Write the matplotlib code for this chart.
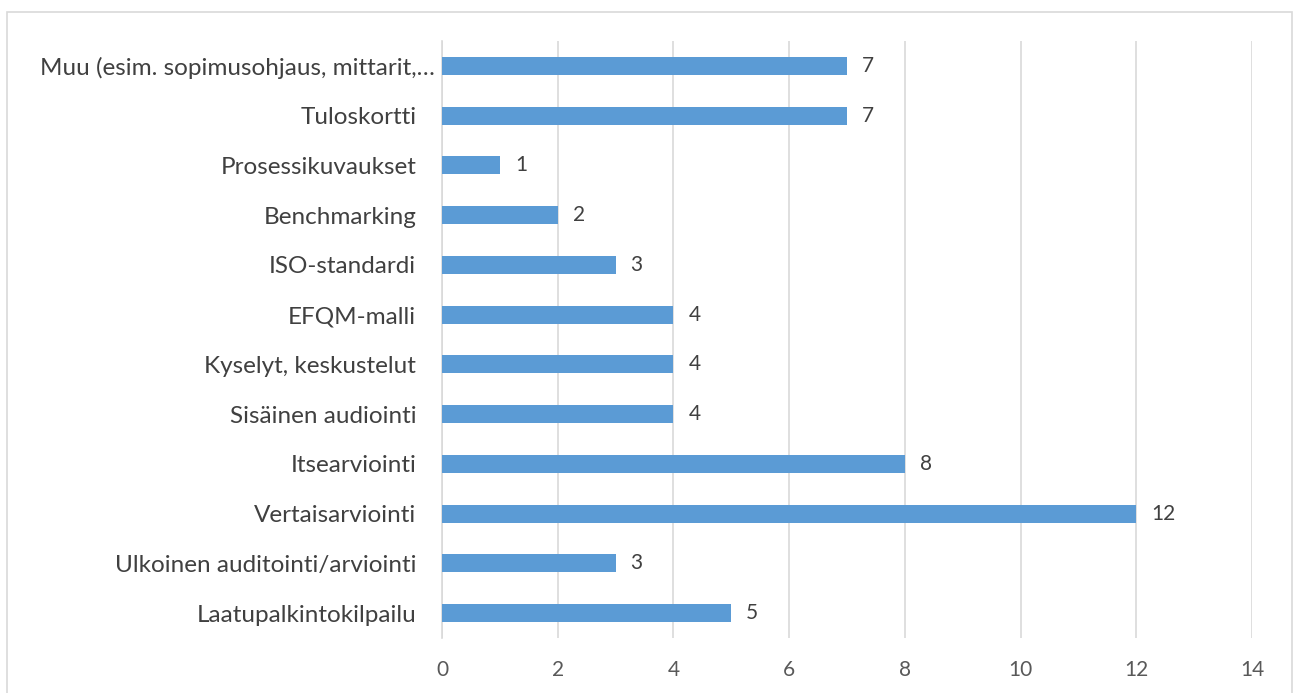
import matplotlib
matplotlib.use("Agg")
import matplotlib.pyplot as plt
import matplotlib.transforms as mtransforms
from matplotlib.patches import Rectangle

categories = ["Muu (esim. sopimusohjaus, mittarit,…", "Tuloskortti", "Prosessikuvaukset",
              "Benchmarking", "ISO-standardi", "EFQM-malli", "Kyselyt, keskustelut",
              "Sisäinen audiointi", "Itsearviointi", "Vertaisarviointi",
              "Ulkoinen auditointi/arviointi", "Laatupalkintokilpailu"]
values = [7, 7, 1, 2, 3, 4, 4, 4, 8, 12, 3, 5]
xticks = [0, 2, 4, 6, 8, 10, 12, 14]

plt.rcParams['font.family'] = ['Lato', 'DejaVu Sans']
W, H = 1293, 693
fig = plt.figure(figsize=(W/100, H/100), dpi=100)
ax = fig.add_axes([442/W, 1-638/H, (1252-442)/W, (638-41)/H])

n = len(categories)
ypos = [n-1-i for i in range(n)]
ax.barh(ypos, values, height=0.36, color="#5B9BD5", zorder=3)
for y, v in zip(ypos, values):
    ax.annotate(str(v), (v, y), xytext=(15, 0), textcoords="offset pixels",
                va="center", ha="left", fontsize=15, color="#404040")

ax.set_xlim(0, 14)
ax.set_ylim(-0.5, n-0.5)
ax.set_xticks(xticks)
ax.set_xticklabels([str(t) for t in xticks], fontsize=15, color="#595959")
ax.set_yticks(ypos)
ax.set_yticklabels(categories, fontsize=17.5, color="#404040")
ax.tick_params(axis="both", length=0)
ax.tick_params(axis="x", pad=16)
ax.tick_params(axis="y", pad=18.5)
# the truncated first label sits closer to the axis
first = ax.get_yticklabels()[0]
first.set_transform(first.get_transform() + mtransforms.Affine2D().translate(19, 0))
ax.grid(axis="x", color="#d9d9d9", linewidth=1.2, zorder=0)
for s in ["top", "right", "bottom"]:
    ax.spines[s].set_visible(False)
ax.spines["left"].set_color("#d9d9d9")
ax.spines["left"].set_linewidth(1.2)

fig.patches.append(Rectangle((7/W, -0.05), (1292-7)/W, 1-12/H+0.05, transform=fig.transFigure,
                             fill=False, edgecolor="#d9d9d9", linewidth=1.2))

fig.savefig("out.png", dpi=100)
